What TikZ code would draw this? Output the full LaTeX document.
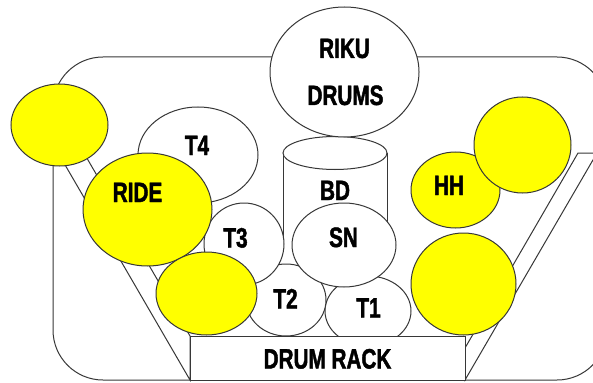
\documentclass[tikz,border=0pt]{standalone}
\usepackage{fontspec}
\usetikzlibrary{shapes.geometric}
\newfontfamily\lblfont[FakeStretch=0.74,FakeBold=1.6]{Liberation Sans}
\definecolor{ln}{RGB}{55,55,55}
\definecolor{cymyellow}{RGB}{255,255,0}
\tikzset{
  drum/.style={ellipse, draw=ln, fill=white, line width=1pt, inner sep=0pt},
  cym/.style={drum, fill=cymyellow},
  part/.style={draw=ln, fill=white, line width=1pt},
  lbl/.style={font=\lblfont\bfseries\fontsize{28}{30}\selectfont, anchor=base, inner sep=0pt, text=black}
}
\begin{document}
\begin{tikzpicture}[x=1pt,y=-1pt]
\useasboundingbox (0,0) rectangle (593,382);
% frame
\draw[part, rounded corners=50pt] (53,57) rectangle (607,380);
% stand legs
\draw[part] (50.6,140) -- (190,380) -- (190,336) -- (76.4,140) -- cycle;
\draw[part] (578,153) -- (597,153) -- (465,380) -- (465,348) -- cycle;
% toms and drums
\node[drum, minimum width=120pt, minimum height=96pt] (t4) at (198,155) {};
\fill[white] (283,153) rectangle (387,250);
\draw[ln, line width=1pt] (283,153) -- (283,250) (387,153) -- (387,250);
\node[drum, minimum width=104pt, minimum height=33pt] (bd) at (335,153) {};
\node[drum, minimum width=149pt, minimum height=130pt] (riku) at (344.5,72) {};
\node[drum, minimum width=86pt, minimum height=70pt] (t1) at (368,311) {};
\node[drum, minimum width=80pt, minimum height=72pt] (t2) at (286,300) {};
\node[drum, minimum width=80pt, minimum height=82pt] (t3) at (244,244) {};
\node[drum, minimum width=104pt, minimum height=84pt] (sn) at (344,245) {};
% cymbals
\node[cym, minimum width=129pt, minimum height=113pt] (ride) at (147.5,209.5) {};
\node[cym, minimum width=97pt, minimum height=82pt] (crashl) at (59.5,125) {};
\node[cym, minimum width=101pt, minimum height=83pt] (cymbl) at (206.5,293.5) {};
\node[cym, minimum width=89pt, minimum height=76pt] (hh) at (455.5,190) {};
\node[cym, minimum width=97pt, minimum height=96pt] (crashr) at (522.5,145) {};
\node[cym, minimum width=105pt, minimum height=102pt] (cymr) at (463.5,284) {};
% rack
\node[part, rectangle, minimum width=275pt, minimum height=44pt, inner sep=0pt] (rack) at (327.5,358) {};
% labels
\node[lbl] (lriku) at (344.5,58) {RIKU};
\node[lbl] (ldrums) at (345.5,105) {DRUMS};
\node[lbl] (lt4) at (197,155) {T4};
\node[lbl] (lride) at (137.5,202) {RIDE};
\node[lbl] (lbd) at (335,200) {BD};
\node[lbl] (lhh) at (449,195) {HH};
\node[lbl] (lt3) at (235.5,247.5) {T3};
\node[lbl] (lsn) at (343.5,247) {SN};
\node[lbl] (lt2) at (285.5,308.5) {T2};
\node[lbl] (lt1) at (368.5,317.5) {T1};
\node[lbl] (lrack) at (327.5,368.5) {DRUM RACK};
\end{tikzpicture}
\end{document}
